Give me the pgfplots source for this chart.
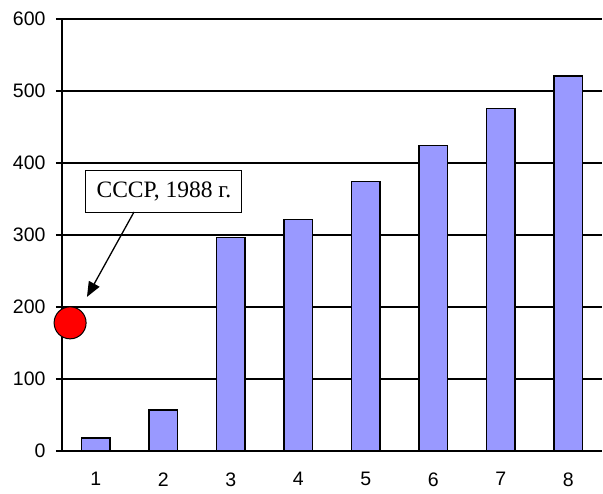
\documentclass[border=0pt]{standalone}
\usepackage{fontspec}
\setmainfont{Liberation Serif}
\newfontfamily\arialfont{Liberation Sans}
\usepackage{pgfplots}
\pgfplotsset{compat=1.18}
\usetikzlibrary{arrows.meta}
\definecolor{barblue}{HTML}{9999FF}
\newcommand\tickfont{\arialfont\fontsize{19.5bp}{21bp}\selectfont}
\begin{document}
\begin{tikzpicture}
\path[use as bounding box] (-62bp,-43bp) rectangle (541bp,451bp);
\begin{axis}[
  at={(0,0)}, anchor=south west,
  scale only axis,
  width=540bp, height=432bp,
  xmin=0.5, xmax=8.5,
  ymin=0, ymax=600,
  xtick={1,...,8},
  minor xtick={0.5,1.5,...,8.5},
  ytick={0,100,...,600},
  axis x line*=bottom,
  axis y line*=left,
  axis line style={line width=1.3bp, -},
  tick align=outside,
  major tick length=6bp,
  minor tick length=7bp,
  xtick style={draw=none},
  minor x tick style={line width=1.3bp, black},
  ytick style={line width=1.3bp, black},
  ymajorgrids,
  grid style={line width=1.3bp, black},
  xticklabel={\tickfont\pgfmathprintnumber[assume math mode=true]{\tick}},
  yticklabel={\tickfont\pgfmathprintnumber[assume math mode=true]{\tick}},
  xticklabel style={yshift=-12bp},
  yticklabel style={xshift=-7bp},
  clip=false,
]
\addplot[ybar, bar width=0.42, fill=barblue, draw=black, line width=1.3bp]
  coordinates {(1,18) (2,57) (3,297) (4,322) (5,374) (6,424) (7,476) (8,521)};
\addplot[only marks, mark=*, mark size=16bp, mark options={fill=red, draw=black, line width=1bp}]
  coordinates {(0.62,178)};
\node[draw=black, line width=1bp, fill=white, inner sep=0pt, minimum width=156bp, minimum height=42bp,
  font=\fontsize{23.5bp}{25bp}\selectfont] at (axis cs:2.01,361) {СССР, 1988 г.};
\draw[line width=1.3bp, -{Triangle[length=15bp,width=12bp]}] (axis cs:1.567,332) -- (axis cs:0.87,214);
\end{axis}
\end{tikzpicture}
\end{document}
